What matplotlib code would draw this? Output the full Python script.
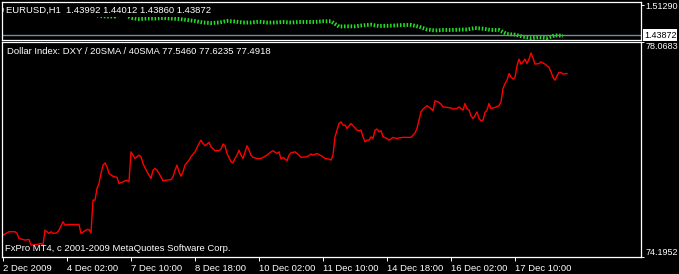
import matplotlib.pyplot as plt
from matplotlib.transforms import blended_transform_factory

W, H = 679, 274
FONT = ["Liberation Sans", "DejaVu Sans"]
FS = 6.8
FS_SCALE = 6.5

# Dollar index, H1 bars (bar number, close)
dxy_bar = [0, 3, 6, 7, 8, 11, 13, 14, 17, 19,
           20, 21, 23, 24, 25, 27, 28, 30, 31, 33,
           38, 39, 42, 43, 44, 45, 46, 47, 48,
           49, 50, 51, 52, 53, 55, 57, 58, 60, 62,
           63, 64, 65, 66, 68, 69, 70, 72, 74, 75,
           76, 77, 78, 80, 82, 84, 85, 86, 87, 88,
           89, 90, 91, 93, 94, 96, 98, 99, 100, 101,
           103, 104, 106, 108, 109, 110, 111, 112, 114, 115,
           116, 117, 118, 119, 120, 122, 123, 124, 125, 127,
           129, 130, 132, 134, 135, 137, 138, 139, 140, 142,
           143, 144, 146, 148, 149, 152, 154, 155, 157, 159,
           161, 163, 164, 165, 166, 167, 168, 169,
           170, 171, 172, 174, 175, 177, 178, 179, 180, 181,
           182, 183, 184, 185, 186, 187, 188, 189, 190, 192,
           193, 194, 195, 197, 198, 200, 202, 204, 205, 206,
           207, 208, 209, 210, 212, 214, 215, 216, 218, 219,
           220, 222, 224, 225, 227, 228, 229, 230, 231, 232,
           233, 234, 235, 236, 237, 238, 239, 240, 241, 242,
           243, 244, 246, 248, 249, 250, 251, 252, 253, 254,
           255, 256, 257, 258, 259, 260, 261, 262, 263, 264,
           265, 266, 268, 269, 271, 273, 274, 275, 276, 277,
           278, 279, 280, 282]
dxy_close = [74.59, 74.65, 74.65, 74.62, 74.53, 74.50, 74.51, 74.41, 74.42, 74.44,
             74.41, 74.68, 74.62, 74.65, 74.62, 74.63, 74.68, 74.83, 74.77, 74.78,
             74.78, 74.62, 74.69, 74.69, 74.63, 75.22, 75.22, 75.43, 75.52,
             75.70, 75.85, 75.89, 75.82, 75.70, 75.65, 75.63, 75.52, 75.55, 75.58,
             75.55, 76.09, 76.03, 75.97, 76.03, 76.00, 75.88, 75.73, 75.61, 75.76,
             75.79, 75.76, 75.70, 75.57, 75.58, 75.59, 75.64, 75.76, 75.85, 75.73,
             75.65, 75.73, 75.85, 75.94, 76.00, 76.09, 76.24, 76.30, 76.24, 76.20,
             76.26, 76.18, 76.11, 76.11, 76.14, 76.23, 76.20, 76.06, 75.91, 75.89,
             75.97, 76.03, 76.12, 76.03, 75.97, 76.20, 76.12, 76.03, 75.99, 75.97,
             75.97, 75.99, 76.03, 76.09, 76.11, 76.06, 76.09, 75.96, 75.99, 75.93,
             76.03, 76.07, 76.09, 76.03, 75.99, 76.00, 76.05, 76.03, 76.06, 76.02,
             75.97, 75.96, 75.94, 76.03, 76.36, 76.48, 76.60, 76.63,
             76.57, 76.57, 76.51, 76.60, 76.56, 76.48, 76.47, 76.48, 76.36, 76.27,
             76.30, 76.30, 76.36, 76.33, 76.48, 76.50, 76.45, 76.47, 76.36, 76.33,
             76.30, 76.32, 76.35, 76.33, 76.34, 76.35, 76.35, 76.35, 76.39, 76.43,
             76.51, 76.66, 76.81, 76.86, 76.92, 76.87, 76.83, 77.01, 76.98, 76.95,
             76.90, 76.89, 76.88, 76.86, 76.87, 76.90, 76.87, 76.84, 76.96, 76.87,
             76.84, 76.74, 76.69, 76.74, 76.81, 76.69, 76.65, 76.66, 76.80, 76.84,
             76.96, 76.87, 76.89, 76.92, 76.99, 77.23, 77.32, 77.38, 77.50, 77.44,
             77.40, 77.43, 77.64, 77.76, 77.67, 77.71, 77.76, 77.68, 77.76, 77.87,
             77.78, 77.67, 77.68, 77.71, 77.67, 77.61, 77.53, 77.43, 77.38, 77.46,
             77.52, 77.52, 77.49, 77.50]

# EURUSD H1, one reading every 4 bars
eur_bar = list(range(0, 284, 4))
eur_close = [1.5005, 1.5030, 1.5055, 1.5055, 1.5080, 1.5080, 1.5055, 1.5030, 1.5030, 1.5005,
             1.5005, 1.4956, 1.4857, 1.4845, 1.4845, 1.4931, 1.4808, 1.4783, 1.4795, 1.4795,
             1.4808, 1.4795, 1.4783, 1.4758, 1.4733, 1.4696, 1.4684, 1.4696, 1.4733, 1.4721,
             1.4696, 1.4696, 1.4716, 1.4696, 1.4696, 1.4709, 1.4696, 1.4709, 1.4709, 1.4709,
             1.4726, 1.4726, 1.4597, 1.4602, 1.4602, 1.4627, 1.4642, 1.4610, 1.4615, 1.4622,
             1.4635, 1.4635, 1.4593, 1.4523, 1.4499, 1.4511, 1.4511, 1.4518, 1.4523, 1.4560,
             1.4543, 1.4511, 1.4511, 1.4412, 1.4395, 1.4345, 1.4313, 1.4333, 1.4313, 1.4380,
             1.4367]
eur_bid = 1.43872

tick_bars = [0, 32, 64, 96, 128, 160, 192, 224, 256]
tick_labels = ["2 Dec 2009", "4 Dec 02:00", "7 Dec 10:00", "8 Dec 18:00", "10 Dec 02:00",
               "11 Dec 10:00", "14 Dec 18:00", "16 Dec 02:00", "17 Dec 10:00"]

fig = plt.figure(figsize=(W / 100, H / 100), dpi=100, facecolor="black")


def box(x0, y0, x1, y1):
    # pixel box (top-left origin) -> figure fraction rect
    return [x0 / W, 1 - y1 / H, (x1 - x0) / W, (y1 - y0) / H]


ax_top = fig.add_axes(box(2, 2, 641, 40), facecolor="black")
ax = fig.add_axes(box(2, 42, 641, 257), facecolor="black")

for a in (ax_top, ax):
    for s in a.spines.values():
        s.set_color("white")
        s.set_linewidth(0.9)
    a.set_xlim(-0.5, 319)
    a.tick_params(colors="white", labelcolor="white", labelsize=FS, length=2, width=0.7, pad=1.2)
    a.yaxis.tick_right()

# upper window: EURUSD
ax_top.plot(eur_bar, eur_close, color="#22e022", lw=2.8, ls=(0, (0.4, 0.45)), solid_capstyle="butt")
ax_top.axhline(eur_bid, color="#7a8899", lw=1.0)
ax_top.set_ylim(1.42636, 1.52033)
ax_top.set_xticks([])
ax_top.set_yticks([1.5129])
ax_top.set_yticklabels(["1.51290"], family=FONT, fontsize=FS_SCALE)
tr = blended_transform_factory(ax_top.transAxes, ax_top.transData)
ax_top.text(1.0045, eur_bid, "1.43872", transform=tr, color="black", fontsize=FS_SCALE, family=FONT,
            va="center", ha="left", clip_on=False,
            bbox=dict(facecolor="white", edgecolor="none", pad=0.8))
ax_top.text(0.006, 0.78, "EURUSD,H1  1.43992 1.44012 1.43860 1.43872", transform=ax_top.transAxes,
            color="white", fontsize=FS, family=FONT, va="center", ha="left", zorder=5,
            bbox=dict(facecolor="black", edgecolor="none", pad=1.5))

# main window: Dollar index
ax.plot(dxy_bar, dxy_close, color="#ff0000", lw=1.0)
ax.set_ylim(74.1952, 78.0683)
ax.set_yticks([74.1952, 78.0683])
ax.set_yticklabels(["74.1952", "78.0683"], family=FONT, fontsize=FS_SCALE)
ylabs = ax.get_yticklabels()
ylabs[0].set_va("bottom")
ylabs[1].set_va("top")
ax.set_xticks(tick_bars)
ax.set_xticklabels(tick_labels, family=FONT, fontsize=FS, ha="left")
ax.tick_params(axis="x", length=3, pad=2)
ax.text(0.008, 0.955, "Dollar Index: DXY / 20SMA / 40SMA 77.5460 77.6235 77.4918", transform=ax.transAxes,
        color="white", fontsize=FS, family=FONT, va="center", ha="left")
ax.text(0.005, 0.04, "FxPro MT4, c 2001-2009 MetaQuotes Software Corp.", transform=ax.transAxes,
        color="white", fontsize=FS, family=FONT, va="center", ha="left")

fig.savefig("out.png", dpi=100, facecolor="black")
